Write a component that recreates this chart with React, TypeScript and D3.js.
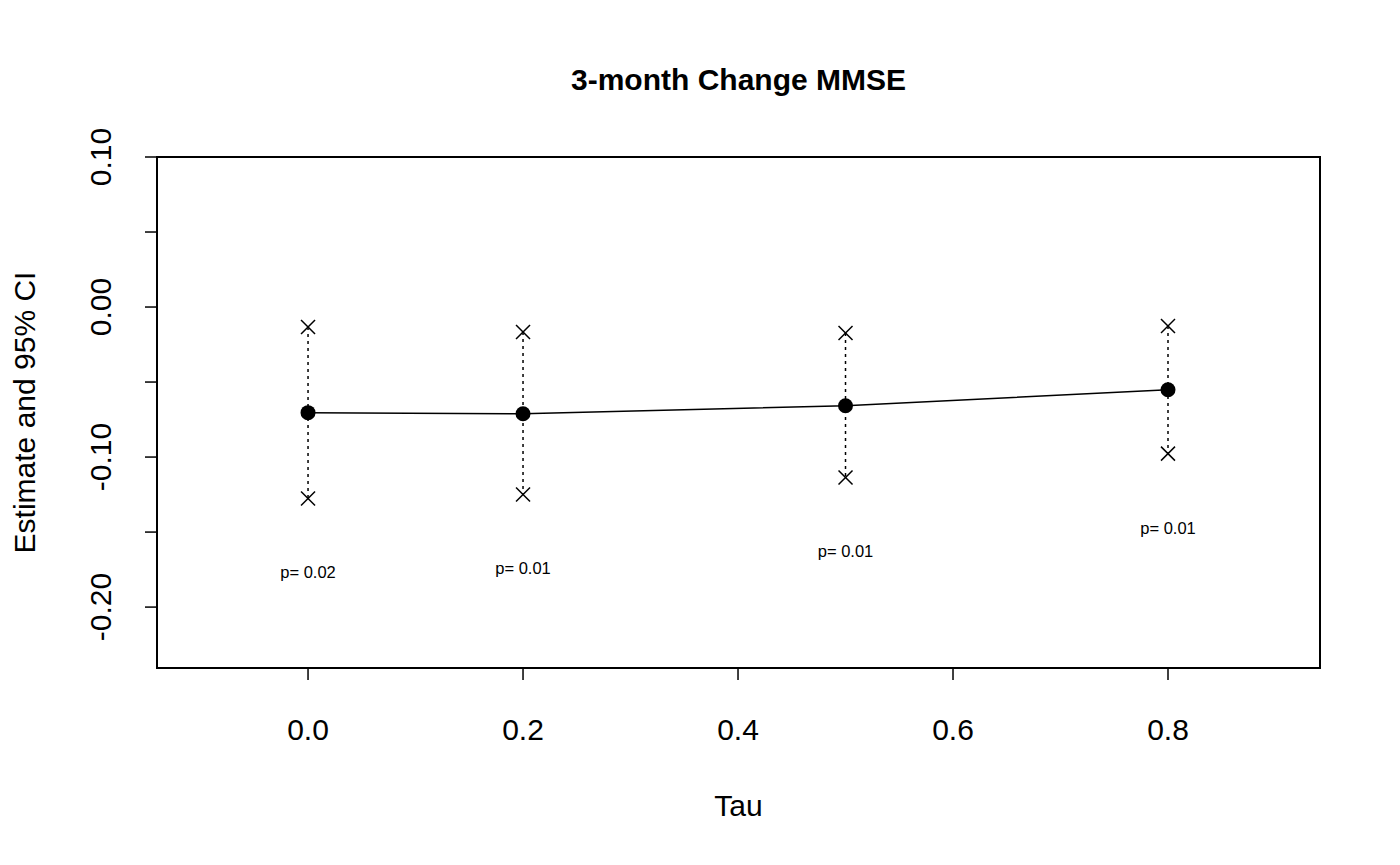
import * as d3 from "d3"

const taus = [0, 0.2, 0.5, 0.8]
const estimates = [-0.0704, -0.0711, -0.0658, -0.0551]
const upper = [-0.0133, -0.0166, -0.0173, -0.0126]
const lower = [-0.1276, -0.1249, -0.1136, -0.0977]
const pLabels = ["p= 0.02", "p= 0.01", "p= 0.01", "p= 0.01"]
const xTicks = [0, 0.2, 0.4, 0.6, 0.8]
const yTicks = [0.1, 0.05, 0, -0.05, -0.1, -0.15, -0.2]
const yLabeled = [0.1, 0, -0.1, -0.2]

export default function App() {
  const W = 1400, H = 865
  const L = 157, R = 1320, T = 157, B = 668
  const x = d3.scaleLinear().domain([-0.1405, 0.9414]).range([L, R])
  const y = d3.scaleLinear().domain([-0.2406, 0.1]).range([B, T])
  const font = "Liberation Sans, Arial, sans-serif"
  const line = d3.line<number>().x((_, i) => x(taus[i])).y((d) => y(d))
  const cross = (cx: number, cy: number, k: string) => (
    <g key={k} stroke="#000" strokeWidth={1.5}>
      <line x1={cx - 7} y1={cy - 7} x2={cx + 7} y2={cy + 7} />
      <line x1={cx - 7} y1={cy + 7} x2={cx + 7} y2={cy - 7} />
    </g>
  )
  return (
    <svg width={W} height={H} style={{ position: "absolute", left: 0, top: 0, background: "#fff" }} fontFamily={font}>
      <rect x={L} y={T} width={R - L} height={B - T} fill="none" stroke="#000" strokeWidth={2} />
      <text x={(L + R) / 2} y={90} textAnchor="middle" fontSize={30} fontWeight="bold">3-month Change MMSE</text>
      {xTicks.map((t) => (
        <g key={"x" + t}>
          <line x1={x(t)} x2={x(t)} y1={B} y2={B + 12} stroke="#000" strokeWidth={1.5} />
          <text x={x(t)} y={740} textAnchor="middle" fontSize={30}>{t.toFixed(1)}</text>
        </g>
      ))}
      <text x={(L + R) / 2} y={816} textAnchor="middle" fontSize={30}>Tau</text>
      {yTicks.map((t) => (
        <g key={"y" + t}>
          <line x1={L - 12} x2={L} y1={y(t)} y2={y(t)} stroke="#000" strokeWidth={1.5} />
          {yLabeled.some((v) => Math.abs(v - t) < 1e-9) && (
            <text transform={`translate(111,${y(t)}) rotate(-90)`} textAnchor="middle" fontSize={30}>
              {t.toFixed(2)}
            </text>
          )}
        </g>
      ))}
      <text transform={`translate(35,${(T + B) / 2}) rotate(-90)`} textAnchor="middle" fontSize={30}>
        Estimate and 95% CI
      </text>
      {taus.map((t, i) => (
        <line key={"ci" + i} x1={x(t)} x2={x(t)} y1={y(upper[i])} y2={y(lower[i])} stroke="#000" strokeWidth={1.5} strokeDasharray="3,4" />
      ))}
      <path d={line(estimates) || ""} fill="none" stroke="#000" strokeWidth={1.5} />
      {taus.map((t, i) => (
        <circle key={"e" + i} cx={x(t)} cy={y(estimates[i])} r={7.5} fill="#000" />
      ))}
      {taus.map((t, i) => cross(x(t), y(upper[i]), "u" + i))}
      {taus.map((t, i) => cross(x(t), y(lower[i]), "l" + i))}
      {taus.map((t, i) => (
        <text key={"p" + i} x={x(t)} y={y(lower[i] - 0.05) + 5} textAnchor="middle" fontSize={16.5}>{pLabels[i]}</text>
      ))}
    </svg>
  )
}
